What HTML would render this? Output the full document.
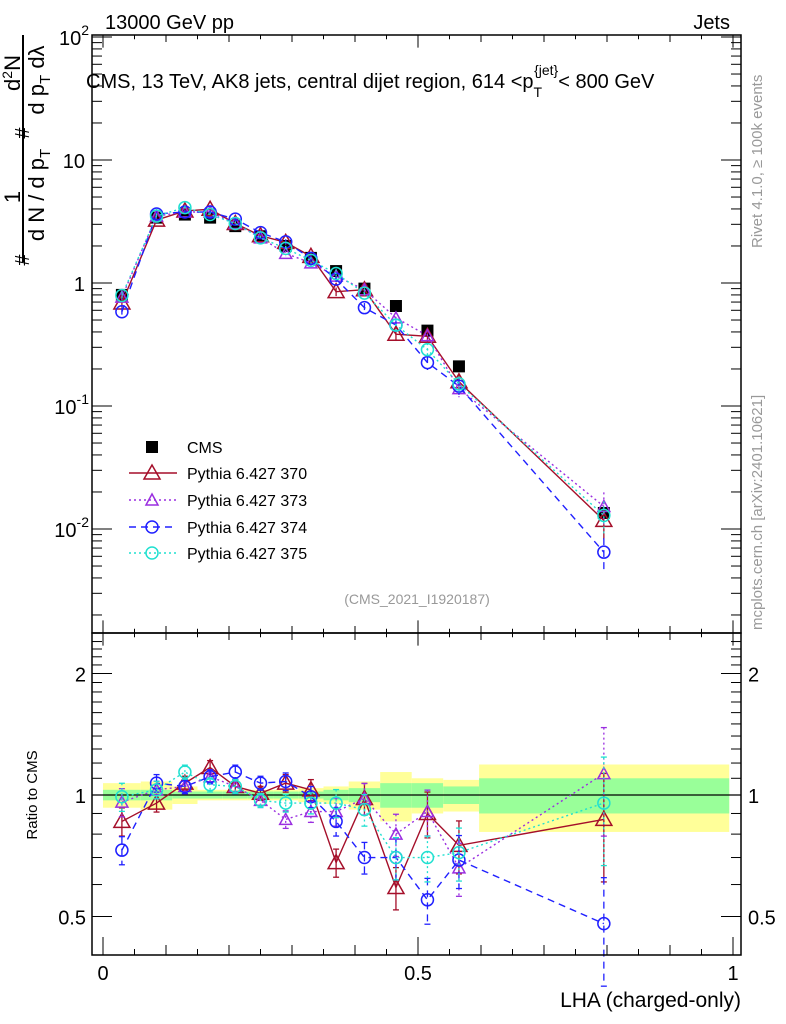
<!DOCTYPE html>
<html><head><meta charset="utf-8"><style>
body{margin:0;background:#fff;}
svg{display:block;font-family:"Liberation Sans",sans-serif;}
</style></head><body>
<svg id="c" width="786" height="1024" xmlns="http://www.w3.org/2000/svg">
<g id="bands"></g>
<g id="marks"></g>
<g id="axes"></g>
<text x="105" y="29" font-size="20">13000 GeV pp</text>
<text x="730" y="29" font-size="20" text-anchor="end">Jets</text>
<text x="86" y="88" font-size="20">CMS, 13 TeV, AK8 jets, central dijet region, 614 &lt;p<tspan font-size="14" dy="9">T</tspan><tspan font-size="14" dy="-22" dx="-8">{jet}</tspan><tspan dy="13">&lt; 800 GeV</tspan></text>
<text x="417" y="604" font-size="14" fill="#999" text-anchor="middle">(CMS_2021_I1920187)</text>
<g transform="rotate(-90)">
<line x1="-262" y1="23" x2="-35" y2="23" stroke="#000" stroke-width="2"/>
<text x="-73" y="20" font-size="22" text-anchor="middle">d<tspan font-size="14" dy="-8">2</tspan><tspan dy="8">N</tspan></text>
<text x="-80" y="44" font-size="22" text-anchor="middle">d p<tspan font-size="15" dy="6">T</tspan><tspan dy="-6"> d</tspan>λ</text>
<text x="-133" y="29" font-size="20" text-anchor="middle">#</text>
<text x="-197" y="20" font-size="22" text-anchor="middle">1</text>
<text x="-195" y="44" font-size="22" text-anchor="middle">d N / d p<tspan font-size="15" dy="6">T</tspan></text>
<text x="-260" y="29" font-size="20" text-anchor="middle">#</text>
</g>
<text transform="translate(762,248) rotate(-90)" font-size="15" fill="#999">Rivet 4.1.0, ≥ 100k events</text>
<text transform="translate(762,630) rotate(-90)" font-size="15" fill="#999">mcplots.cern.ch [arXiv:2401.10621]</text>
<text transform="translate(37,795) rotate(-90)" font-size="15" text-anchor="middle">Ratio to CMS</text>
<text x="741" y="1007" font-size="21" text-anchor="end">LHA (charged-only)</text>
<g id="legend"></g>
</svg>
<script>
const centers=[0.03,0.085,0.13,0.17,0.21,0.25,0.29,0.33,0.37,0.415,0.465,0.515,0.565,0.795];
const edges=[0,0.06,0.11,0.15,0.19,0.23,0.27,0.31,0.35,0.39,0.44,0.49,0.54,0.597,0.994];
const cms=[0.8,3.4,3.6,3.4,2.9,2.4,2.0,1.6,1.25,0.9,0.65,0.41,0.21,0.0135];
const statErr=[0.03,0.03,0.02,0.02,0.02,0.02,0.02,0.02,0.03,0.04,0.07,0.07,0.05,0.1];
const totErr=[0.07,0.08,0.05,0.03,0.03,0.03,0.03,0.04,0.05,0.08,0.14,0.1,0.09,0.19];
const r370=[0.86,0.955,1.07,1.17,1.05,1.01,1.07,1.03,0.68,0.98,0.59,0.9,0.75,0.87];
const r373=[0.96,1.03,1.05,1.11,1.05,0.97,0.87,0.91,0.91,0.98,0.8,0.91,0.66,1.13];
const r374=[0.73,1.07,1.05,1.11,1.14,1.07,1.08,0.99,0.86,0.70,0.70,0.55,0.69,0.48];
const r375=[0.99,1.03,1.14,1.06,1.05,0.97,0.955,0.955,0.955,0.92,0.70,0.70,0.72,0.955];
const mcErr=[0.08,0.05,0.04,0.04,0.04,0.04,0.05,0.06,0.08,0.09,0.12,0.13,0.15,0.3];
const yTicks=["10^2","10","1","10^-1","10^-2"];
const rTicks=[2,1,0.5];
const L=92,R=741,T=35,MB=633,RB=955;
const X=v=>103+v*630;
const Y=v=>283-123*Math.log10(v);
const YR=v=>795-121.5*Math.log2(v);
const NS="http://www.w3.org/2000/svg";
function mk(tag,attrs,parent){const e=document.createElementNS(NS,tag);for(const k in attrs)e.setAttribute(k,attrs[k]);parent.appendChild(e);return e;}
const bands=document.getElementById('bands'),marks=document.getElementById('marks'),axes=document.getElementById('axes'),leg=document.getElementById('legend');
edges.slice(0,-1).forEach((e,i)=>{
 const x1=X(e),x2=X(edges[i+1]);
 const y=mk('rect',{x:x1,y:YR(1+totErr[i]),width:x2-x1,height:YR(1-totErr[i])-YR(1+totErr[i]),fill:'#ffff99'},bands);
 
 
 const g=mk('rect',{x:x1,y:YR(1+statErr[i]),width:x2-x1,height:YR(1-statErr[i])-YR(1+statErr[i]),fill:'#99ff99'},bands);
 
 
});
mk('line',{x1:L,x2:R,y1:YR(1),y2:YR(1),stroke:'#000','stroke-width':1.2},bands);
mk('rect',{x:L,y:T,width:R-L,height:MB-T,fill:'none',stroke:'#000','stroke-width':1.5},axes);
mk('rect',{x:L,y:MB,width:R-L,height:RB-MB,fill:'none',stroke:'#000','stroke-width':1.5},axes);
for(let i=0;i<=20;i++){const v=i*0.05;const x=X(v);const big=i%10==0?18:(i%2==0?10:6);
 [[MB,1],[T,-1]].forEach(([y0,s])=>mk('line',{x1:x,x2:x,y1:y0,y2:y0-s*big*0.7,stroke:'#000'},axes));
 mk('line',{x1:x,x2:x,y1:RB,y2:RB-big,stroke:'#000'},axes);
 mk('line',{x1:x,x2:x,y1:MB,y2:MB+big*0.7,stroke:'#000'},axes);
}
[["0",0],["0.5",0.5],["1",1]].forEach(([t,v])=>{const e=mk('text',{x:X(v),y:980,'font-size':20,'text-anchor':'middle'},axes);e.textContent=t;
 
 });
for(let d=-3;d<=2;d++){for(let m=1;m<10;m++){const v=m*Math.pow(10,d);const y=Y(v);if(y<T||y>MB)continue;const len=m==1?20:10;
 mk('line',{x1:L,x2:L+len,y1:y,y2:y,stroke:'#000'},axes);mk('line',{x1:R,x2:R-len,y1:y,y2:y,stroke:'#000'},axes);}}
yTicks.forEach((t,i)=>{const p=2-i;const y=Y(Math.pow(10,p));const parts=t.split('^');
 const e=mk('text',{x:85,y:y+8,'font-size':20,'text-anchor':'end'},axes);
 if(parts[1]){e.textContent=parts[0];const s=mk('tspan',{dy:-10,'font-size':14},e);s.textContent=parts[1];e.setAttribute('x',L-3);}
 else e.textContent=t;
 
 });
for(let v=0.4;v<=2.5;v+=0.1){const y=YR(v);if(y<MB||y>RB)continue;const maj=rTicks.some(t=>Math.abs(t-v)<1e-6);const len=maj?20:10;
 mk('line',{x1:L,x2:L+len,y1:y,y2:y,stroke:'#000'},axes);mk('line',{x1:R,x2:R-len,y1:y,y2:y,stroke:'#000'},axes);}
rTicks.forEach(t=>{const y=YR(t);
 const a=mk('text',{x:L-6,y:y+8,'font-size':20,'text-anchor':'end'},axes);a.textContent=t;
 
 
 const b=mk('text',{x:R+7,y:y+8,'font-size':20},axes);b.textContent=t;
 
 });
function marker(kind,x,y,col,parent,name){let e;
 if(kind=='sq'){e=mk('rect',{x:x-6,y:y-6,width:12,height:12,fill:'#000'},parent);}
 else if(kind=='tri'){e=mk('polygon',{points:`${x},${y-8} ${x-8},${y+6} ${x+8},${y+6}`,fill:'none',stroke:col,'stroke-width':1.5},parent);}
 else if(kind=='stri'){e=mk('polygon',{points:`${x},${y-6} ${x-6},${y+5} ${x+6},${y+5}`,fill:'none',stroke:col,'stroke-width':1.5},parent);}
 else {e=mk('circle',{cx:x,cy:y,r:6,fill:'none',stroke:col,'stroke-width':1.5},parent);}
 
 }
const series=[
 {r:r370,col:'#a50f2a',dash:'',kind:'tri',name:'Pythia 6.427 370'},
 {r:r373,col:'#9a2ee0',dash:'2,3',kind:'stri',name:'Pythia 6.427 373'},
 {r:r374,col:'#2020ff',dash:'7,5',kind:'bc',name:'Pythia 6.427 374'},
 {r:r375,col:'#20e0d0',dash:'2,3',kind:'cc',name:'Pythia 6.427 375'}];
cms.forEach((v,i)=>marker('sq',X(centers[i]),Y(v),'#000',marks,'cms-point'));
series.forEach((s,si)=>{
 const vals=s.r.map((r,i)=>r*cms[i]);
 const pl=mk('polyline',{points:vals.map((v,i)=>X(centers[i])+','+Y(v)).join(' '),fill:'none',stroke:s.col,'stroke-width':1.4,'stroke-dasharray':s.dash},marks);
 
 
 const rl=mk('polyline',{points:s.r.map((v,i)=>X(centers[i])+','+YR(v)).join(' '),fill:'none',stroke:s.col,'stroke-width':1.4,'stroke-dasharray':s.dash},marks);
 
 
 vals.forEach((v,i)=>{const x=X(centers[i]);
  const e=mcErr[i];
  const ey1=Y(v*(1+e)),ey2=Y(Math.max(v*(1-e),1e-4));
  mk('line',{x1:x,x2:x,y1:ey1,y2:ey2,stroke:s.col,'stroke-width':1.3,'stroke-dasharray':s.dash},marks);
  const r=s.r[i];
  const ry1=YR(r*(1+e)),ry2=YR(Math.max(r*(1-e),0.3));
  mk('line',{x1:x,x2:x,y1:ry1,y2:ry2,stroke:s.col,'stroke-width':1.3,'stroke-dasharray':s.dash},marks);
  mk('line',{x1:x-3,x2:x+3,y1:ry1,y2:ry1,stroke:s.col,'stroke-width':1.3},marks);
  mk('line',{x1:x-3,x2:x+3,y1:ry2,y2:ry2,stroke:s.col,'stroke-width':1.3},marks);
  marker(s.kind,x,Y(v),s.col,marks,'mc-point-'+si);
  marker(s.kind,x,YR(r),s.col,marks,'ratio-point-'+si);
 });
});
const ly=[447,473,500,527,553];
marker('sq',152,ly[0],'#000',leg,'legend-cms-marker');
let t0=mk('text',{x:187,y:ly[0]+6,'font-size':16},leg);t0.textContent='CMS';


series.forEach((s,i)=>{const y=ly[i+1];
 mk('line',{x1:129,x2:177,y1:y,y2:y,stroke:s.col,'stroke-width':1.4,'stroke-dasharray':s.dash},leg);
 marker(s.kind,152,y,s.col,leg,'legend-marker');
 const t=mk('text',{x:187,y:y+6,'font-size':16},leg);t.textContent=s.name;
 
 });
</script>
</body></html>
